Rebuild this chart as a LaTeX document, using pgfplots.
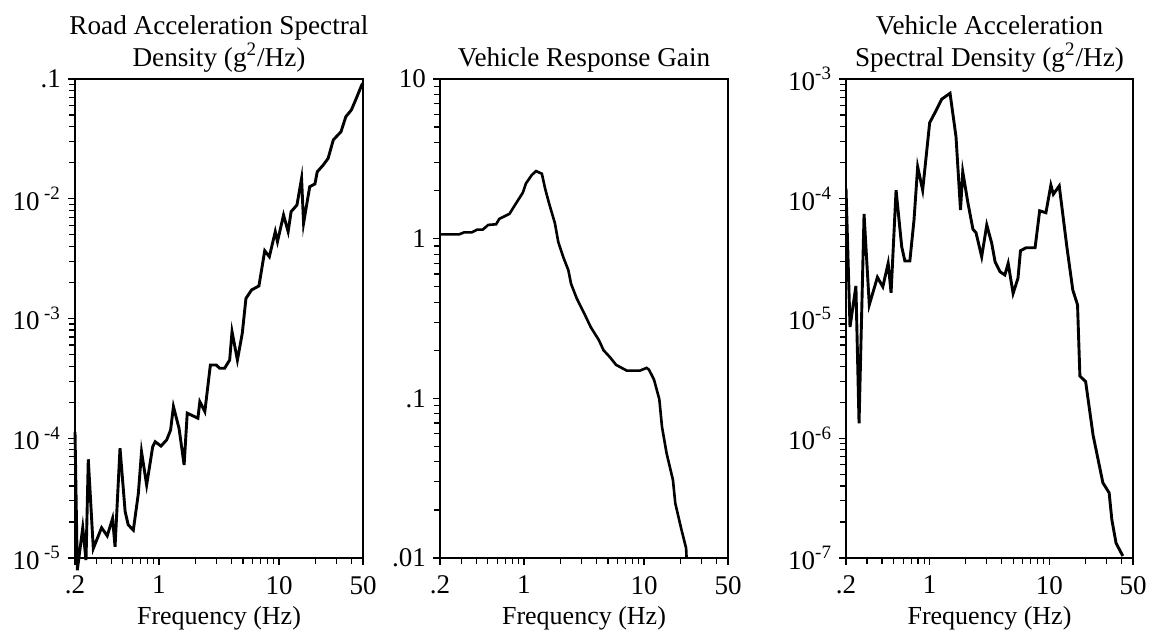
\documentclass[border=0pt]{standalone}
\usepackage{pgfplots}
\pgfplotsset{compat=1.18}
\usepackage{fontspec}
\setmainfont{Liberation Serif}

\pgfplotsset{
  every axis/.append style={
    scale only axis,
    width=144pt, height=239.5pt,
    anchor=south west,
    xmin=0.2, xmax=50,
    axis line style={line width=1.3pt},
    tick align=outside,
    tick pos=left,
    major tick length=3.5pt,
    minor tick length=2.8pt,
    xtick={0.2,1,10,50},
    xticklabels={.2,1,10,50},
    minor xtick={0.3,0.4,0.5,0.6,0.7,0.8,0.9,2,3,4,5,6,7,8,9,20,30,40},
    xlabel={Frequency (Hz)},
    ticklabel style={font=\fontsize{13.5}{15}\selectfont},
    xticklabel style={yshift=-2pt},
    label style={font=\fontsize{13}{15}\selectfont},
    xlabel style={yshift=1pt},
    title style={align=center, font=\fontsize{13.6}{16}\selectfont, yshift=-6pt},
  },
  every tick/.style={black, line width=0.6pt},
}

\begin{document}
\begin{tikzpicture}
\useasboundingbox (0,0) rectangle (575.5pt,318pt);

% road input
\begin{loglogaxis}[at={(37.5pt,39pt)}, clip=false,
  ymin=1e-5, ymax=0.1,
  title={Road Acceleration Spectral\\Density (g\textsuperscript{2}/Hz)},
  ytick={1e-5,1e-4,1e-3,1e-2,0.1},
  yticklabels={10\,\textsuperscript{-5},10\,\textsuperscript{-4},10\,\textsuperscript{-3},10\,\textsuperscript{-2},.1},
  minor ytick={2e-5,3e-5,4e-5,5e-5,6e-5,7e-5,8e-5,9e-5,
    2e-4,3e-4,4e-4,5e-4,6e-4,7e-4,8e-4,9e-4,
    2e-3,3e-3,4e-3,5e-3,6e-3,7e-3,8e-3,9e-3,
    0.02,0.03,0.04,0.05,0.06,0.07,0.08,0.09},
]
\addplot[black, line width=1.45pt] coordinates {
  (0.2,1.13e-4) (0.209,7.9e-6) (0.232,1.79e-5) (0.247,9.6e-6) (0.258,6.67e-5)
  (0.284,1.2e-5) (0.333,1.79e-5) (0.371,1.53e-5) (0.411,2.14e-5) (0.431,1.24e-5)
  (0.474,8.24e-5) (0.523,2.44e-5) (0.555,1.89e-5) (0.612,1.71e-5) (0.674,3.47e-5)
  (0.716,7.72e-5) (0.79,4.07e-5) (0.887,8.5e-5) (0.93,9.36e-5) (1.04,8.6e-5)
  (1.16,9.7e-5) (1.25,1.17e-4) (1.32,1.84e-4) (1.47,1.21e-4) (1.62,5.98e-5)
  (1.72,1.62e-4) (2.11,1.47e-4) (2.19,2.02e-4) (2.41,1.67e-4) (2.68,4.09e-4)
  (3.0,4.09e-4) (3.2,3.84e-4) (3.52,3.84e-4) (3.88,4.5e-4) (4.06,7.76e-4)
  (4.5,4.5e-4) (4.94,7.52e-4) (5.3,1.47e-3) (5.9,1.73e-3) (6.8,1.87e-3)
  (7.6,3.68e-3) (8.3,3.28e-3) (9.3,5.31e-3) (9.7,4.38e-3) (10.9,7.31e-3)
  (11.9,5.31e-3) (12.6,7.8e-3) (14.1,8.87e-3) (15.4,0.0148) (16.0,6.24e-3)
  (18.0,0.0126) (19.9,0.0133) (20.8,0.0168) (23.3,0.0191) (25.6,0.0217)
  (28.3,0.031) (32.8,0.0363) (36.0,0.0485) (40.0,0.0551) (44.0,0.069)
  (48.8,0.0891) (50,0.092)
};
\end{loglogaxis}

% vehicle gain
\begin{loglogaxis}[at={(220pt,39pt)},
  ymin=0.01, ymax=10,
  title={Vehicle Response Gain},
  ytick={0.01,0.1,1,10},
  yticklabels={.01,.1,1,10},
  minor ytick={0.02,0.03,0.04,0.05,0.06,0.07,0.08,0.09,
    0.2,0.3,0.4,0.5,0.6,0.7,0.8,0.9,2,3,4,5,6,7,8,9},
]
\addplot[black, line width=1.3pt] coordinates {
  (0.2,1.064) (0.289,1.064) (0.317,1.094) (0.367,1.094) (0.409,1.14)
  (0.454,1.14) (0.505,1.22) (0.586,1.23) (0.623,1.33) (0.757,1.43)
  (0.84,1.62) (0.978,1.94) (1.04,2.22) (1.16,2.5) (1.26,2.65)
  (1.41,2.55) (1.50,2.06) (1.62,1.66) (1.81,1.25) (1.93,0.955)
  (2.12,0.77) (2.34,0.636) (2.47,0.52) (2.75,0.423) (3.22,0.333)
  (3.6,0.279) (4.2,0.232) (4.6,0.2) (5.2,0.181) (5.85,0.162)
  (7.2,0.149) (9.2,0.149) (10.5,0.155) (11.0,0.151) (12.1,0.131)
  (13.4,0.0986) (14.1,0.0664) (15.4,0.0453) (17.4,0.0308) (18.2,0.022)
  (20.5,0.015) (22.4,0.0115) (22.6,0.01)
};
\end{loglogaxis}

% vehicle output
\begin{loglogaxis}[at={(423pt,39pt)}, width=143.5pt,
  ymin=1e-7, ymax=1e-3,
  title={Vehicle Acceleration\\Spectral Density (g\textsuperscript{2}/Hz)},
  ytick={1e-7,1e-6,1e-5,1e-4,1e-3},
  yticklabels={10\textsuperscript{-7},10\textsuperscript{-6},10\textsuperscript{-5},10\textsuperscript{-4},10\textsuperscript{-3}},
  minor ytick={2e-7,3e-7,4e-7,5e-7,6e-7,7e-7,8e-7,9e-7,
    2e-6,3e-6,4e-6,5e-6,6e-6,7e-6,8e-6,9e-6,
    2e-5,3e-5,4e-5,5e-5,6e-5,7e-5,8e-5,9e-5,
    2e-4,3e-4,4e-4,5e-4,6e-4,7e-4,8e-4,9e-4},
]
\addplot[black, line width=1.45pt] coordinates {
  (0.2,1.22e-4) (0.216,8.5e-6) (0.242,1.87e-5) (0.257,1.33e-6) (0.283,7.46e-5)
  (0.313,1.3e-5) (0.366,2.21e-5) (0.406,1.84e-5) (0.45,2.89e-5) (0.476,1.64e-5)
  (0.524,1.18e-4) (0.584,3.98e-5) (0.621,3.02e-5) (0.683,3.02e-5) (0.74,6.65e-5)
  (0.794,1.85e-4) (0.874,1.18e-4) (1.0,4.31e-4) (1.1,5.17e-4) (1.26,6.78e-4)
  (1.48,7.6e-4) (1.66,3.3e-4) (1.81,8.06e-5) (1.89,1.68e-4) (2.09,9.17e-5)
  (2.3,5.56e-5) (2.44,5.2e-5) (2.72,3.28e-5) (3.0,6.04e-5) (3.3,4.25e-5)
  (3.52,2.98e-5) (3.87,2.46e-5) (4.25,2.31e-5) (4.53,2.89e-5) (4.98,1.62e-5)
  (5.47,2.17e-5) (5.74,3.68e-5) (6.4,3.9e-5) (7.6,3.9e-5) (8.3,7.94e-5)
  (9.36,7.64e-5) (10.3,1.3e-4) (10.8,1.09e-4) (12.1,1.28e-4) (14.0,3.98e-5)
  (15.7,1.73e-5) (17.2,1.3e-5) (18.0,3.31e-6) (20.1,2.97e-6) (23.2,1.06e-6)
  (28.0,4.25e-7) (31.6,3.5e-7) (33.3,2.08e-7) (36.1,1.33e-7) (41.1,1.04e-7)
};
\end{loglogaxis}
\end{tikzpicture}
\end{document}
